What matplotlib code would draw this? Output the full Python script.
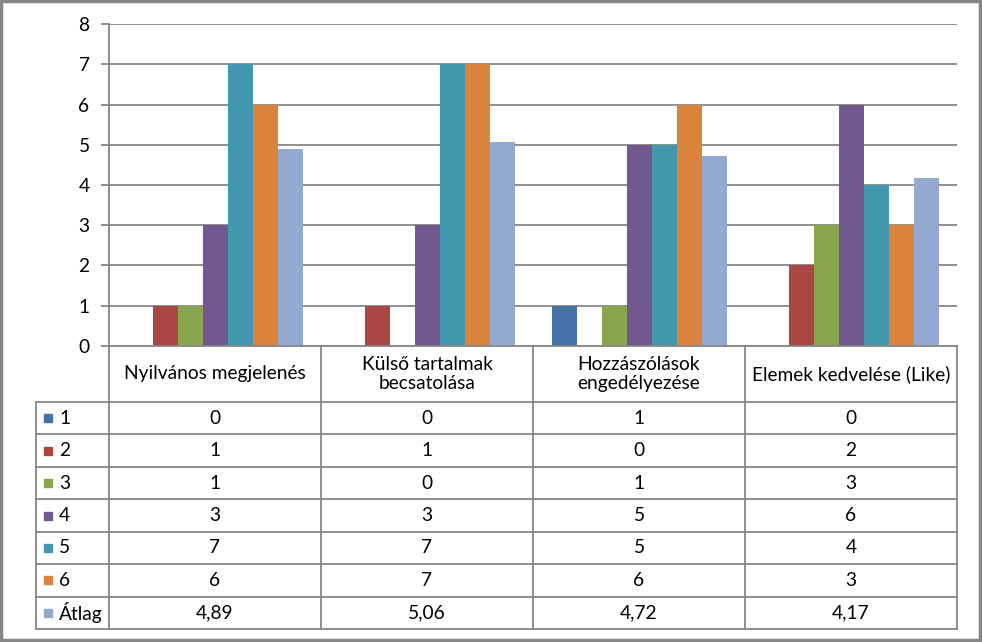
import matplotlib
matplotlib.use("Agg")
import matplotlib.pyplot as plt
from matplotlib.patches import Rectangle
import numpy as np

plt.rcParams['font.family'] = ['Lato', 'DejaVu Sans']

categories = ["Nyilvános megjelenés", "Külső tartalmak\nbecsatolása",
              "Hozzászólások\nengedélyezése", "Elemek kedvelése (Like)"]
series_names = ["1", "2", "3", "4", "5", "6", "Átlag"]
s1 = [0, 1, 1, 3, 7, 6, 4.89]
s2 = [0, 1, 0, 3, 7, 7, 5.06]
s3 = [1, 0, 1, 5, 5, 6, 4.72]
s4 = [0, 2, 3, 6, 4, 3, 4.17]
values_by_category = [s1, s2, s3, s4]
colors = ["#4572A7", "#AA4643", "#89A54E", "#71588F", "#4198AF", "#DB843D", "#93A9CF"]
yticks = [0, 1, 2, 3, 4, 5, 6, 7, 8]

W, H = 982, 642
fig = plt.figure(figsize=(W / 100, H / 100), dpi=100)
grey = "#868686"
fs = 13.8

# pixel layout
x0, x1 = 109, 957
ytop, ybot = 24, 346
ax = fig.add_axes([x0 / W, 1 - ybot / H, (x1 - x0) / W, (ybot - ytop) / H])
ncat = len(categories)
nser = len(series_names)
bw = 25 / 212
xs = np.arange(ncat)
for j in range(nser):
    vals = [values_by_category[i][j] for i in range(ncat)]
    ax.bar(xs + (j - (nser - 1) / 2) * bw, vals, width=bw, color=colors[j], zorder=3)
ax.set_xlim(-0.5, ncat - 0.5)
ax.set_ylim(0, 8)
ax.set_yticks(yticks)
ax.set_yticklabels([str(t) for t in yticks], fontsize=fs)
ax.set_xticks([])
ax.grid(axis='y', color=grey, linewidth=1.3, zorder=0)
for s in ['top', 'right', 'bottom']:
    ax.spines[s].set_visible(False)
ax.spines['left'].set_color(grey)
ax.spines['left'].set_linewidth(1.3)
ax.tick_params(axis='y', length=6, width=1.3, color=grey, pad=8, labelcolor="#000000")

# table overlay in pixel coordinates
tax = fig.add_axes([0, 0, 1, 1])
tax.set_xlim(0, W)
tax.set_ylim(H, 0)
tax.axis('off')
tax.patch.set_alpha(0)

col_x = [x0 + k * (x1 - x0) / ncat for k in range(ncat + 1)]
head_bot = 402
row_h = (629 - head_bot) / nser
row_y = [head_bot + k * row_h for k in range(nser + 1)]
lab_left = 36
lw = 1.3
# vertical lines
for k, cx in enumerate(col_x):
    tax.plot([cx, cx], [ybot, row_y[-1]], color=grey, lw=lw)
tax.plot([lab_left, lab_left], [head_bot, row_y[-1]], color=grey, lw=lw)
# horizontal lines
tax.plot([x0, x1], [ybot, ybot], color=grey, lw=lw)
for ry in row_y:
    tax.plot([lab_left, x1], [ry, ry], color=grey, lw=lw)
# header texts
for i, cat in enumerate(categories):
    cx = (col_x[i] + col_x[i + 1]) / 2
    tax.text(cx, (ybot + head_bot) / 2, cat, ha='center', va='center', fontsize=fs,
             linespacing=1.2)
# rows
for j, name in enumerate(series_names):
    cy = (row_y[j] + row_y[j + 1]) / 2
    tax.add_patch(Rectangle((44, cy - 4), 8, 8, color=colors[j]))
    tax.text(59, cy, name, ha='left', va='center', fontsize=fs)
    for i in range(ncat):
        v = values_by_category[i][j]
        txt = f"{v:.2f}".replace('.', ',') if j == nser - 1 else f"{v:g}"
        cx = (col_x[i] + col_x[i + 1]) / 2
        tax.text(cx, cy, txt, ha='center', va='center', fontsize=fs)

# outer frame
tax.add_patch(Rectangle((1, 1), W - 3, H - 3, fill=False, edgecolor=grey, lw=2.5))

fig.savefig("out.png", dpi=100)
